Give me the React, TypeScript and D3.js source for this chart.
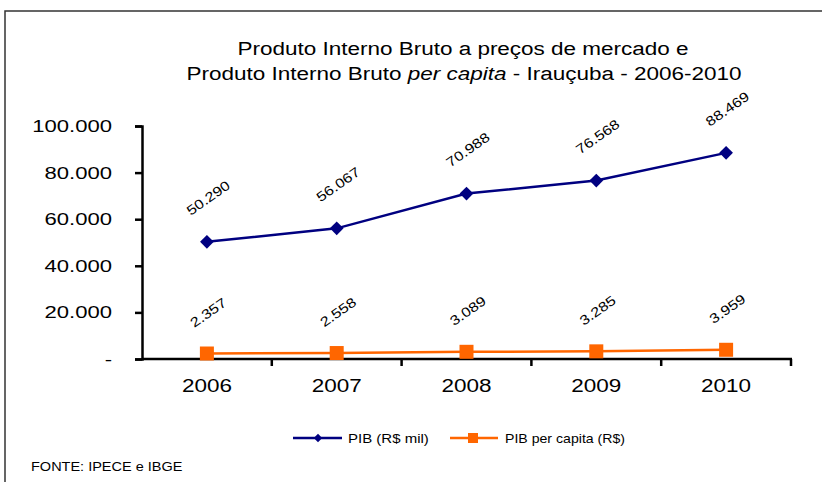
import { useEffect, useRef } from "react";
import * as d3 from "d3";

const years = ["2006", "2007", "2008", "2009", "2010"];
const pibMil = [50290, 56067, 70988, 76568, 88469];
const pibPerCapita = [2357, 2558, 3089, 3285, 3959];
const yTicks = [0, 20000, 40000, 60000, 80000, 100000];
const seriesNames = ["PIB (R$ mil)", "PIB per capita (R$)"];

const fmt = (v: number) => (v === 0 ? "-" : d3.format(",")(v).replace(/,/g, "."));

// the source picture is a little stretched sideways, so text is widened
const SX = 1.25;

export default function App() {
  const svgRef = useRef<SVGSVGElement>(null);

  useEffect(() => {
    if (!svgRef.current) return;
    const svg = d3.select(svgRef.current);
    svg.selectAll("*").remove();
    const font = "Liberation Sans, Arial, sans-serif";

    const txt = (
      parent: d3.Selection<any, unknown, null, undefined>,
      x: number, y: number, s: string, size: number, anchor = "start", sx = SX,
    ) =>
      parent.append("text")
        .attr("transform", `translate(${x},${y}) scale(${sx},1)`)
        .attr("text-anchor", anchor).attr("font-family", font)
        .attr("font-size", size).attr("fill", "#000").text(s);

    // outer frame (right and bottom edges lie outside the picture)
    svg.append("rect")
      .attr("x", 5).attr("y", 11).attr("width", 830).attr("height", 490)
      .attr("fill", "none").attr("stroke", "#333").attr("stroke-width", 1.5);

    // title
    txt(svg, 463, 55, "Produto Interno Bruto a preços de mercado  e", 18, "middle");
    const t2 = txt(svg, 464, 80, "", 18, "middle");
    t2.append("tspan").text("Produto Interno Bruto ");
    t2.append("tspan").attr("font-style", "italic").text("per capita");
    t2.append("tspan").text(" -  Irauçuba - 2006-2010");

    const x = d3.scaleBand().domain(years).range([142, 791]);
    const y = d3.scaleLinear().domain([0, 100000]).range([359, 126]);

    // y axis
    const yAxis = svg.append("g").attr("transform", "translate(142,0)")
      .call(d3.axisLeft(y).tickValues(yTicks).tickFormat((d) => fmt(d as number)).tickSize(7).tickPadding(16));
    yAxis.select(".domain").attr("stroke", "#000").attr("stroke-width", 2.5);
    yAxis.selectAll(".tick line").attr("stroke", "#000").attr("stroke-width", 2.5);
    yAxis.selectAll("text").attr("font-family", font).attr("font-size", 17).attr("fill", "#000")
      .attr("transform", `scale(${1.3},1)`);

    // x axis with ticks at category boundaries
    const xAxis = svg.append("g").attr("transform", "translate(0,359)");
    xAxis.append("line").attr("x1", 142).attr("x2", 792)
      .attr("stroke", "#000").attr("stroke-width", 2.5);
    years.forEach((yr) => {
      const bx = x(yr) as number;
      xAxis.append("line")
        .attr("x1", bx + x.bandwidth()).attr("x2", bx + x.bandwidth())
        .attr("y1", 0).attr("y2", 7).attr("stroke", "#000").attr("stroke-width", 2.5);
      txt(xAxis, bx + x.bandwidth() / 2, 33, yr, 18, "middle");
    });

    const cx = (i: number) => (x(years[i]) as number) + x.bandwidth() / 2;
    const line = d3.line<number>().x((_, i) => cx(i)).y((d) => y(d));

    // PIB line
    svg.append("path").attr("d", line(pibMil)).attr("fill", "none")
      .attr("stroke", "#000080").attr("stroke-width", 2.5);
    svg.append("g").selectAll("path").data(pibMil).join("path")
      .attr("d", d3.symbol(d3.symbolDiamond2, 120)())
      .attr("transform", (d, i) => `translate(${cx(i)},${y(d)})`)
      .attr("fill", "#000080");

    // per capita line
    svg.append("path").attr("d", line(pibPerCapita)).attr("fill", "none")
      .attr("stroke", "#FF6600").attr("stroke-width", 2.5);
    svg.append("g").selectAll("rect").data(pibPerCapita).join("rect")
      .attr("x", (d, i) => cx(i) - 7).attr("y", (d) => y(d) - 7)
      .attr("width", 14).attr("height", 14).attr("fill", "#FF6600");

    // data labels
    const labels = (vals: number[], off: number) =>
      svg.append("g").selectAll("text").data(vals).join("text")
        .attr("transform", (d, i) => `translate(${cx(i) + 2},${y(d) - off}) rotate(-35) scale(1.2,1)`)
        .attr("text-anchor", "middle").attr("dominant-baseline", "middle")
        .attr("font-family", font).attr("font-size", 13.5).attr("fill", "#000")
        .text((d) => fmt(d));
    labels(pibMil, 43);
    labels(pibPerCapita, 40);

    // legend
    const leg = svg.append("g");
    leg.append("line").attr("x1", 293).attr("x2", 342).attr("y1", 438).attr("y2", 438)
      .attr("stroke", "#000080").attr("stroke-width", 2.5);
    leg.append("path").attr("d", d3.symbol(d3.symbolDiamond2, 45)())
      .attr("transform", "translate(318,438)").attr("fill", "#000080");
    txt(leg, 348, 443, seriesNames[0], 12.5, "start", 1.2);
    leg.append("line").attr("x1", 450).attr("x2", 498).attr("y1", 438).attr("y2", 438)
      .attr("stroke", "#FF6600").attr("stroke-width", 2.5);
    leg.append("rect").attr("x", 468).attr("y", 433).attr("width", 10).attr("height", 10)
      .attr("fill", "#FF6600");
    txt(leg, 505, 443, seriesNames[1], 12.5, "start", 1.13);

    txt(svg, 31, 471, "FONTE: IPECE e IBGE", 12, "start", 1.21);
  }, []);

  return (
    <svg ref={svgRef} width={822} height={482}
      style={{ position: "absolute", top: 0, left: 0, background: "#fff" }} />
  );
}
